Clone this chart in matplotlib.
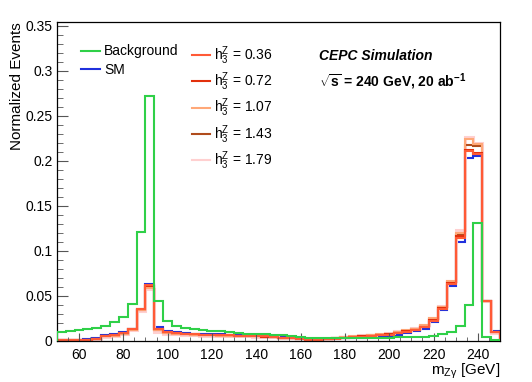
import numpy as np
import matplotlib.pyplot as plt
from matplotlib.lines import Line2D
from matplotlib.ticker import MultipleLocator, FormatStrFormatter

plt.rcParams['font.family'] = ['Liberation Sans', 'DejaVu Sans']
plt.rcParams['mathtext.fontset'] = 'custom'
plt.rcParams['mathtext.rm'] = 'Liberation Sans'
plt.rcParams['mathtext.it'] = 'Liberation Sans:italic'
plt.rcParams['mathtext.bf'] = 'Liberation Sans:bold'

# m_Zgamma binning: 50 bins of 4 GeV from 50 to 250
edges = np.arange(50, 251, 4)

background = [0.0093, 0.0111, 0.0119, 0.0134, 0.0145, 0.0167, 0.0204, 0.0260, 0.0408, 0.1204,
              0.2722, 0.0440, 0.0220, 0.0167, 0.0145, 0.0130, 0.0120, 0.0110, 0.0105, 0.0095,
              0.0090, 0.0080, 0.0075, 0.0070, 0.0065, 0.0060, 0.0050, 0.0042, 0.0036, 0.0032,
              0.0030, 0.0030, 0.0028, 0.0026, 0.0025, 0.0027, 0.0030, 0.0033, 0.0037, 0.0040,
              0.0043, 0.0045, 0.0052, 0.0070, 0.0093, 0.0163, 0.0397, 0.1310, 0.0042, 0.0005]

sm = [0.0005, 0.0008, 0.0010, 0.0015, 0.0025, 0.0068, 0.0072, 0.0095, 0.0135, 0.0340,
      0.0630, 0.0155, 0.0108, 0.0093, 0.0085, 0.0080, 0.0075, 0.0072, 0.0070, 0.0066,
      0.0062, 0.0060, 0.0056, 0.0052, 0.0045, 0.0038, 0.0030, 0.0020, 0.0012, 0.0008,
      0.0012, 0.0020, 0.0025, 0.0030, 0.0035, 0.0040, 0.0046, 0.0054, 0.0068, 0.0088,
      0.0105, 0.0135, 0.0204, 0.0340, 0.0608, 0.1100, 0.2026, 0.2056, 0.0444, 0.0105]

h3_036 = [0.0004, 0.0007, 0.0009, 0.0013, 0.0022, 0.0058, 0.0065, 0.0085, 0.0130, 0.0355,
          0.0620, 0.0135, 0.0098, 0.0085, 0.0078, 0.0073, 0.0069, 0.0066, 0.0064, 0.0061,
          0.0058, 0.0056, 0.0052, 0.0048, 0.0042, 0.0036, 0.0029, 0.0020, 0.0013, 0.0010,
          0.0015, 0.0024, 0.0033, 0.0040, 0.0046, 0.0052, 0.0060, 0.0068, 0.0082, 0.0100,
          0.0118, 0.0150, 0.0220, 0.0350, 0.0630, 0.1140, 0.2108, 0.2080, 0.0444, 0.0102]

h3_072 = [0.0004, 0.0006, 0.0009, 0.0012, 0.0020, 0.0055, 0.0062, 0.0082, 0.0128, 0.0350,
          0.0610, 0.0128, 0.0095, 0.0082, 0.0076, 0.0071, 0.0067, 0.0064, 0.0062, 0.0059,
          0.0056, 0.0054, 0.0050, 0.0047, 0.0041, 0.0036, 0.0030, 0.0021, 0.0014, 0.0011,
          0.0016, 0.0026, 0.0035, 0.0043, 0.0050, 0.0056, 0.0064, 0.0072, 0.0087, 0.0106,
          0.0124, 0.0155, 0.0230, 0.0360, 0.0640, 0.1160, 0.2120, 0.2090, 0.0446, 0.0100]

h3_107 = [0.0003, 0.0005, 0.0008, 0.0011, 0.0018, 0.0050, 0.0057, 0.0076, 0.0122, 0.0340,
          0.0590, 0.0118, 0.0088, 0.0077, 0.0071, 0.0067, 0.0063, 0.0060, 0.0058, 0.0055,
          0.0053, 0.0051, 0.0048, 0.0045, 0.0040, 0.0036, 0.0031, 0.0023, 0.0017, 0.0013,
          0.0019, 0.0030, 0.0040, 0.0048, 0.0055, 0.0062, 0.0070, 0.0079, 0.0095, 0.0115,
          0.0135, 0.0170, 0.0250, 0.0380, 0.0660, 0.1200, 0.2240, 0.2190, 0.0442, 0.0092]

h3_143 = [0.0003, 0.0005, 0.0008, 0.0011, 0.0019, 0.0052, 0.0059, 0.0079, 0.0135, 0.0345,
          0.0605, 0.0122, 0.0090, 0.0079, 0.0073, 0.0069, 0.0065, 0.0062, 0.0060, 0.0057,
          0.0054, 0.0052, 0.0049, 0.0046, 0.0041, 0.0036, 0.0030, 0.0022, 0.0016, 0.0012,
          0.0018, 0.0028, 0.0038, 0.0046, 0.0053, 0.0059, 0.0067, 0.0076, 0.0091, 0.0110,
          0.0130, 0.0160, 0.0240, 0.0370, 0.0650, 0.1180, 0.2180, 0.2160, 0.0446, 0.0098]

h3_179 = [0.0003, 0.0004, 0.0007, 0.0010, 0.0016, 0.0045, 0.0052, 0.0070, 0.0115, 0.0330,
          0.0580, 0.0100, 0.0080, 0.0070, 0.0066, 0.0062, 0.0058, 0.0056, 0.0054, 0.0052,
          0.0050, 0.0048, 0.0046, 0.0044, 0.0040, 0.0036, 0.0032, 0.0025, 0.0019, 0.0015,
          0.0021, 0.0033, 0.0044, 0.0052, 0.0060, 0.0068, 0.0076, 0.0086, 0.0103, 0.0124,
          0.0140, 0.0175, 0.0255, 0.0390, 0.0667, 0.1230, 0.2260, 0.2200, 0.0440, 0.0085]

h3_labels = ['0.36', '0.72', '1.07', '1.43', '1.79']
h3_values = [h3_036, h3_072, h3_107, h3_143, h3_179]
h3_colors = ['#ff5a36', '#e2300c', '#ffa878', '#b04c1c', '#ffd0d0']
h3_widths = [1.5, 1.5, 1.5, 1.5, 2.2]

fig = plt.figure(figsize=(5.32, 3.82), dpi=100)
ax = fig.add_axes([0.1068, 0.108, 0.833, 0.834])

ax.stairs(sm, edges, baseline=0, color='#2030dd', lw=1.5)
# pink drawn first (widest), then the rest on top
for vals, col, lw in reversed(list(zip(h3_values, h3_colors, h3_widths))):
    ax.stairs(vals, edges, baseline=0, color=col, lw=lw)
ax.stairs(background, edges, baseline=0, color='#2fd048', lw=1.5, zorder=3)

ax.set_xlim(50, 250)
ax.set_ylim(0, 0.354)

ax.xaxis.set_major_locator(MultipleLocator(20))
ax.xaxis.set_minor_locator(MultipleLocator(5))
ax.yaxis.set_major_locator(MultipleLocator(0.05))
ax.yaxis.set_minor_locator(MultipleLocator(0.01))
ax.yaxis.set_major_formatter(FormatStrFormatter('%g'))
ax.tick_params(which='both', direction='in', color='#555555', labelsize=10)
ax.tick_params(axis='y', which='major', length=8, pad=3)
ax.tick_params(axis='y', which='minor', length=4)
ax.tick_params(axis='x', which='major', length=6, pad=5)
ax.tick_params(axis='x', which='minor', length=3)
ax.set_xticks(np.arange(60, 241, 20))
for sp in ax.spines.values():
    sp.set_linewidth(0.9)

ax.set_ylabel('Normalized Events', fontsize=11, loc='top', labelpad=1)
ax.set_xlabel(r'm$_{\mathregular{Z\gamma}}$ [GeV]', fontsize=11, loc='right')
ax.xaxis.set_label_coords(1.0, -0.066)

leg1 = ax.legend([Line2D([], [], color='#2fd048', lw=1.5), Line2D([], [], color='#2030dd', lw=1.5)],
                 ['Background', 'SM'], loc='upper left', bbox_to_anchor=(0.055, 0.93),
                 frameon=False, fontsize=10, handlelength=1.35, handletextpad=0.3,
                 labelspacing=0.32, borderpad=0, borderaxespad=0)
ax.add_artist(leg1)
ax.legend([Line2D([], [], color=c, lw=1.5) for c in h3_colors],
          [r'$\mathregular{h_3^Z}$ = ' + s for s in h3_labels],
          loc='upper left', bbox_to_anchor=(0.305, 0.93), frameon=False, fontsize=10,
          handlelength=1.3, handletextpad=0.3, labelspacing=0.26, borderpad=0, borderaxespad=0)

ax.text(0.592, 0.895, 'CEPC Simulation', transform=ax.transAxes, fontsize=10,
        fontweight='bold', style='italic', va='center')
ax.text(0.592, 0.812, r'$\sqrt{\mathbf{s}}$ = 240 GeV, 20 ab$^{\mathbf{-1}}$', transform=ax.transAxes,
        fontsize=10, fontweight='bold', va='center')

fig.savefig('out.png', dpi=100)
